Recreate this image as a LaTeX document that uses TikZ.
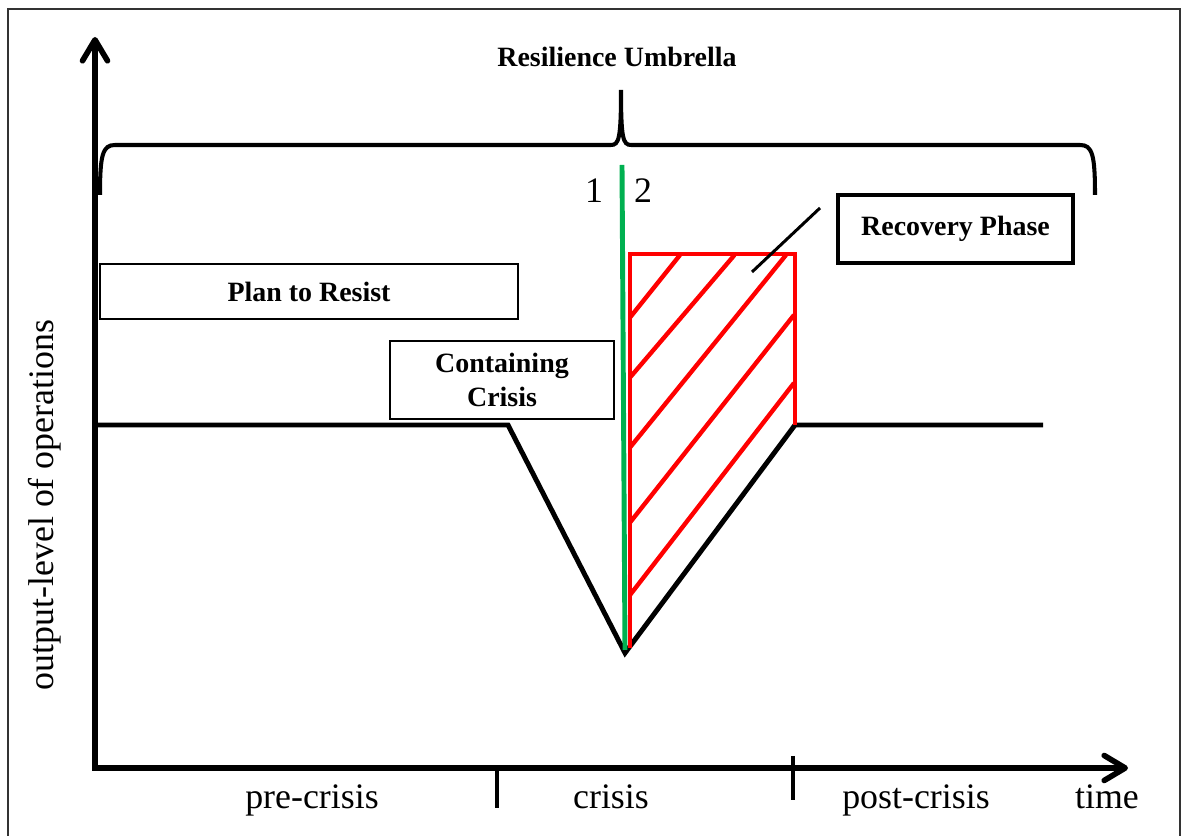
\documentclass[tikz,border=0pt]{standalone}
\usepackage{fontspec}
\setmainfont{Liberation Serif}
\usetikzlibrary{arrows.meta,positioning}

\definecolor{crisisgreen}{RGB}{0,176,80}

\begin{document}
\begin{tikzpicture}[
  axis/.style={line width=3.2pt, line join=miter},
  level/.style={line width=2.8pt, line join=miter},
  hatch/.style={red, line width=2.5pt},
  lbl/.style={font=\fontsize{20.4}{24}\selectfont, inner sep=0pt},
  phasebox/.style={draw, line width=1pt, font=\bfseries\fontsize{15.9}{19}\selectfont, align=center, inner sep=0pt},
  >={Straight Barb[length=0.42cm,width=0.5cm,round]}
]
\useasboundingbox (0,0) rectangle (23.66,16.72);
% frame
\draw[line width=1pt, black!80] (0.16,0) -- (0.16,16.54) -- (23.6,16.54) -- (23.6,0);

% axes
\coordinate (ytop) at (1.9,15.98);
\coordinate (origin) at (1.9,1.36);
\coordinate (xend) at (22.56,1.36);
\draw[axis, <->] (ytop) -- (origin) -- (xend);
\draw[line width=2.3pt] (9.94,1.36) -- (9.94,0.56);
\draw[line width=2.3pt] (15.86,1.6) -- (15.86,0.72);

\node[lbl, anchor=base] (pre) at (6.24,0.54) {pre-crisis};
\node[lbl, anchor=base] (crisis) at (12.22,0.54) {crisis};
\node[lbl, anchor=base] (post) at (18.32,0.54) {post-crisis};
\node[lbl, anchor=base] (time) at (22.14,0.54) {time};
\node[lbl, rotate=90] (ylabel) at (0.9,6.62) {output-level of operations};

% umbrella brace
\node[font=\bfseries\fontsize{15.9}{19}\selectfont, anchor=base, inner sep=0pt] (umbrella) at (12.34,15.38) {Resilience Umbrella};
\draw[line width=2.3pt] (2.0,12.82) .. controls (2.0,13.62) and (2.05,13.82) .. (2.3,13.82)
  -- (12.22,13.82) .. controls (12.38,13.82) and (12.42,13.95) .. (12.42,14.92)
  .. controls (12.42,13.95) and (12.46,13.82) .. (12.62,13.82)
  -- (21.6,13.82) .. controls (21.85,13.82) and (21.9,13.62) .. (21.9,12.82);

% output level
\draw[level] (1.94,8.22) -- (10.16,8.22) -- (12.5,3.66) -- (15.9,8.22) -- (20.86,8.22);

% recovery area
\draw[hatch, line join=miter] (12.6,3.76) -- (12.6,11.64) -- (15.9,11.64) -- (15.9,8.22);
\foreach \p/\q in {{(12.6,10.37)}/{(13.6,11.62)}, {(12.6,9.17)}/{(14.69,11.62)},
                   {(12.6,7.77)}/{(15.72,11.62)}, {(12.6,6.27)}/{(15.88,10.42)},
                   {(12.6,4.82)}/{(15.88,9.06)}}
  \draw[hatch] \p -- \q;

% crisis onset
\draw[crisisgreen, line width=2.8pt] (12.44,13.42) -- (12.5,3.72);
\node[lbl, anchor=base] (one) at (11.88,12.66) {1};
\node[lbl, anchor=base] (two) at (12.86,12.66) {2};

% phases
\node[phasebox, minimum width=8.36cm, minimum height=1.1cm] (plan) at (6.18,10.89) {Plan to Resist};
\node[phasebox, minimum width=4.48cm, minimum height=1.56cm] (contain) at (10.04,9.12) {Containing\\Crisis};
\node[phasebox, line width=2pt, minimum width=4.7cm, minimum height=1.36cm] (recovery) at (19.11,12.14) {Recovery Phase};
\coordinate (rp-lead) at (16.4,12.56);
\coordinate (rp-end) at (15.04,11.28);
\draw[line width=1.7pt] (rp-lead) -- (rp-end);
\end{tikzpicture}
\end{document}
